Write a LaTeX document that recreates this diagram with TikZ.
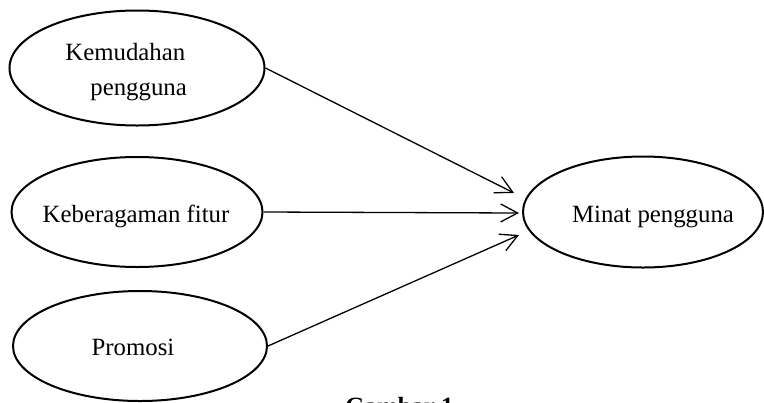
\documentclass[tikz,border=0pt]{standalone}
\usepackage{fontspec}
\setmainfont{Liberation Serif}
\usetikzlibrary{arrows.meta,shapes.geometric}
\begin{document}
\begin{tikzpicture}[x=0.5pt,y=-0.5pt,>={Straight Barb[length=8.5pt,width=9pt]},
    bubble/.style={ellipse,draw,line width=1pt,inner sep=0pt},
    label text/.style={anchor=base,inner sep=0pt,font=\fontsize{12.4}{15}\selectfont}]
    \useasboundingbox (0,0) rectangle (764,402);
    % variabel bebas
    \node[bubble,minimum width=127.5pt,minimum height=57.5pt] (kemudahan) at (137,68) {};
    \node[bubble,minimum width=125.5pt,minimum height=55pt] (keberagaman) at (137,212) {};
    \node[bubble,minimum width=127pt,minimum height=55pt] (promosi) at (140,346) {};
    % variabel terikat
    \node[bubble,minimum width=120pt,minimum height=55.5pt] (minat) at (643,212) {};
    \node[label text,anchor=base west] (kemudahanA) at (65,60) {Kemudahan};
    \node[label text,anchor=base west] (kemudahanB) at (90,95) {pengguna};
    \node[label text] (keberagamanT) at (136,222) {Keberagaman fitur};
    \node[label text] (promosiT) at (133,355) {Promosi};
    \node[label text] (minatT) at (653,222) {Minat pengguna};
    \coordinate (tipA) at (514,193);
    \coordinate (tipB) at (519,213);
    \coordinate (tipC) at (519,235);
    \foreach \s/\t in {kemudahan/tipA,keberagaman/tipB,promosi/tipC}
        \draw[->,line width=0.65pt] (\s.east) -- (\t);
    \node[label text,anchor=base west,font=\fontsize{12.4}{15}\selectfont\bfseries] (gambar) at (345,414) {Gambar 1};
\end{tikzpicture}
\end{document}
